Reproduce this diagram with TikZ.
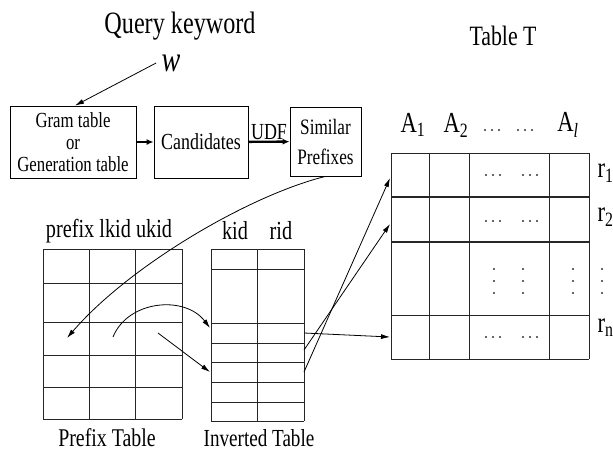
\documentclass[tikz,border=0pt]{standalone}
\usepackage{fontspec}
\setmainfont{Liberation Serif}[FakeStretch=0.78]
\usetikzlibrary{arrows.meta}

\begin{document}
\begin{tikzpicture}[x=1pt,y=-1pt,
  box/.style={draw, line width=0.8pt, inner sep=0pt, align=center, font=\fontsize{21.5}{22}\selectfont},
  grid/.style={line width=1pt, black!85},
  conn/.style={-{Latex[length=9pt,width=5pt]}, line width=0.8pt},
  big/.style={font=\fontsize{29}{29}\selectfont},
  head/.style={font=\fontsize{26}{26}\selectfont},
  dot/.style={black!80}]
\useasboundingbox (0,0) rectangle (613,453);
\node[font=\fontsize{31}{31}\selectfont] (query) at (180,26) {Query keyword};
\node[font=\fontsize{36}{36}\selectfont\itshape] (w) at (171,63) {w};
\node[box, minimum width=126pt, minimum height=72pt] (gram) at (73,142) {Gram table\\or\\Generation table};
\node[box, minimum width=94pt, minimum height=72pt, font=\fontsize{23}{23}\selectfont] (cand) at (201,142) {Candidates};
\node[box, minimum width=71pt, minimum height=69pt, font=\fontsize{22}{30}\selectfont] (sim) at (325.5,141.5) {Similar\\Prefixes};
\draw[conn] ([xshift=-2pt]w.west) -- ([xshift=2pt]gram.north);
\draw[conn, line width=2.4pt, -{Latex[length=7pt,width=6pt]}] (gram) -- (cand);
\draw[conn, line width=2.4pt, -{Latex[length=7pt,width=6pt]}] (cand) -- node[above, font=\fontsize{23}{23}\selectfont, inner sep=1pt] (udf) {UDF} (sim);
\node[font=\fontsize{28}{28}\selectfont] (tabt) at (503,36) {Table T};
\node[big] (a1) at (413,125) {A\textsubscript{1}};
\node[big] (a2) at (456,125) {A\textsubscript{2}};
\node[big] (al) at (568,125) {A\textsubscript{\itshape l}};
\foreach \x in {485,492,499,518,525,532}
\fill[dot] (\x,130) circle (1.2pt);
\foreach \x in {391,429,469,549,589}
\draw[grid] (\x,153) -- (\x,359);
\foreach \y in {153,315,359}
\draw[grid] (391,\y) -- (589,\y);
\draw[grid, line width=2.2pt] (391,197) -- (589,197);
\draw[grid, line width=1.8pt] (391,242) -- (589,242);
\foreach \y in {175,221,337}
\foreach \x in {486,493,500,523,530,537}
\fill[dot] (\x,\y) circle (1.1pt);
\foreach \x in {494,523,573,602}
\foreach \y in {269,281,293}
\fill[dot] (\x,\y) circle (1.2pt);
\node[big, anchor=west] (r1) at (594,173) {r\textsubscript{1}};
\node[big, anchor=west] (r2) at (594,217) {r\textsubscript{2}};
\node[big, anchor=west] (rn) at (594,328) {r\textsubscript{n}};
\node[head] (phead) at (109,231) {prefix lkid ukid};
\foreach \x in {43,89,135,182}
\draw[grid] (\x,249) -- (\x,419);
\foreach \y in {249,283,322,355,387,419}
\draw[grid] (43,\y) -- (182,\y);
\node[head, font=\fontsize{25.5}{25.5}\selectfont] (ptab) at (107,438) {Prefix Table};
\node[head] (kid) at (235,231) {kid};
\node[head] (rid) at (281,231) {rid};
\foreach \x in {211,257,304}
\draw[grid] (\x,249) -- (\x,421);
\foreach \y in {249,269,323,343,362,382,402,421}
\draw[grid] (211,\y) -- (304,\y);
\node[font=\fontsize{24.5}{24.5}\selectfont] (itab) at (259,438) {Inverted Table};
\coordinate (pcell) at (67,338);
\coordinate (lkid) at (113,337);
\coordinate (ukid) at (158,333);
\coordinate (inv1) at (210,328);
\coordinate (inv2) at (210,372);
\coordinate (out1) at (304,333);
\coordinate (out2) at (304,350);
\coordinate (out3) at (304,372);
\coordinate (tr1) at (390,178);
\coordinate (tr2) at (390,224);
\coordinate (trn) at (390,337);
\draw[conn] (sim.south) .. controls (250,195) and (130,265) .. (pcell);
\draw[conn] (lkid) .. controls (128,300) and (185,295) .. (inv1);
\draw[conn] (ukid) .. controls (180,350) .. (inv2);
\draw[conn] (out1) -- (trn);
\draw[conn] (out2) -- (tr2);
\draw[conn] (out3) -- (tr1);
\end{tikzpicture}
\end{document}
